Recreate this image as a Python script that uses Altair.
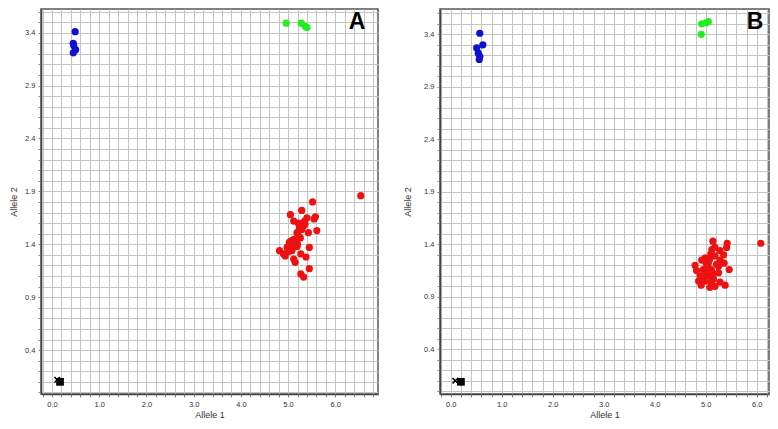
import altair as alt
import pandas as pd

# ---------------- Panel A data ----------------
a_blue_x = [0.49, 0.45, 0.46, 0.50, 0.45]
a_blue_y = [3.41, 3.30, 3.28, 3.24, 3.21]
a_green_x = [4.96, 5.28, 5.36, 5.40]
a_green_y = [3.49, 3.49, 3.46, 3.45]
a_red_x = [6.54, 5.52, 5.05, 5.29, 5.58, 5.12, 5.40, 5.22, 5.36, 5.61, 5.19, 5.43,
           5.29, 5.26, 5.12, 5.05, 4.98, 4.82, 4.94, 5.08, 5.19, 5.45, 5.12, 5.15,
           5.27, 5.38, 5.45, 5.27, 5.33, 5.55, 5.10, 5.02, 5.06, 5.14, 5.00, 5.22,
           5.32, 4.90, 5.17, 5.35, 5.24, 5.09, 5.03, 5.20]
a_red_y = [1.86, 1.80, 1.68, 1.72, 1.66, 1.62, 1.65, 1.60, 1.59, 1.53, 1.51, 1.51,
           1.54, 1.46, 1.41, 1.40, 1.37, 1.34, 1.29, 1.34, 1.38, 1.37, 1.26, 1.23,
           1.31, 1.28, 1.17, 1.12, 1.09, 1.64, 1.44, 1.39, 1.43, 1.45, 1.33, 1.48,
           1.57, 1.31, 1.42, 1.62, 1.55, 1.36, 1.42, 1.40]
a_square_x = [0.17]
a_square_y = [0.10]
a_cross_x = [0.11]
a_cross_y = [0.12]

# ---------------- Panel B data ----------------
b_blue_x = [0.57, 0.63, 0.51, 0.54, 0.57, 0.56]
b_blue_y = [3.41, 3.30, 3.27, 3.22, 3.19, 3.16]
b_green_x = [4.92, 5.01, 5.05, 4.91]
b_green_y = [3.50, 3.51, 3.52, 3.40]
b_red_x = [6.08, 5.14, 5.42, 5.41, 5.12, 5.28, 4.99, 4.79, 5.46, 5.36, 5.25, 5.38,
           4.91, 5.08, 5.18, 4.99, 4.82, 5.02, 5.08, 5.18, 4.95, 5.05, 5.15, 5.28,
           4.89, 4.92, 5.28, 5.35, 5.05, 5.11, 5.18, 5.25, 4.99, 5.11, 4.86, 5.10,
           5.21, 5.00, 5.14, 4.97]
b_red_y = [1.41, 1.43, 1.41, 1.37, 1.35, 1.34, 1.27, 1.20, 1.16, 1.22, 1.13, 1.01,
           1.01, 0.99, 1.00, 1.05, 1.15, 1.19, 1.26, 1.29, 1.16, 1.10, 1.07, 1.04,
           1.10, 1.25, 1.25, 1.30, 1.22, 1.16, 1.37, 1.19, 1.13, 1.04, 1.05, 1.31,
           1.21, 1.23, 1.12, 1.09]
b_square_x = [0.20]
b_square_y = [0.09]
b_cross_x = [0.09]
b_cross_y = [0.10]

panel_labels = ["A", "B"]
x_title = "Allele 1"
y_title = "Allele 2"

group_names = ["blue", "green", "red"]
group_colors = ["#1010d4", "#22ee22", "#ee1111"]

H = 385
X_MAJOR = "abs(datum.value - round(datum.value)) < 0.001"
Y_MAJOR = "abs(datum.value*2 + 0.2 - round(datum.value*2 + 0.2)) < 0.001"


def circles_df(bx, by, gx, gy, rx, ry):
    rows = []
    for name, xs, ys in (("blue", bx, by), ("green", gx, gy), ("red", rx, ry)):
        for xv, yv in zip(xs, ys):
            rows.append({"x": xv, "y": yv, "group": name})
    return pd.DataFrame(rows)


def panel(df, sq_x, sq_y, cr_x, cr_y, xdom, ydom, xgrid, ygrid, label, label_x,
          y_title_pad, width):
    xenc = alt.X(
        "x:Q",
        scale=alt.Scale(domain=xdom, nice=False, zero=False),
        axis=alt.Axis(
            values=xgrid, tickCount=200, grid=True, title=x_title,
            labelExpr=X_MAJOR + " ? format(datum.value, '.1f') : ''",
            labelFontSize={"condition": {"test": X_MAJOR, "value": 7.5}, "value": 0},
            labelOverlap=False, labelFlush=False, titlePadding=3,
        ),
    )
    yenc = alt.Y(
        "y:Q",
        scale=alt.Scale(domain=ydom, nice=False, zero=False),
        axis=alt.Axis(
            values=ygrid, tickCount=200, grid=True, title=y_title,
            labelExpr=Y_MAJOR + " ? format(datum.value, '.1f') : ''",
            labelFontSize={"condition": {"test": Y_MAJOR, "value": 7.5}, "value": 0},
            labelOverlap=False, labelFlush=False, titlePadding=y_title_pad,
        ),
    )
    pts = alt.Chart(df).mark_circle(size=52, opacity=1).encode(
        x=xenc, y=yenc,
        color=alt.Color("group:N", scale=alt.Scale(domain=group_names, range=group_colors),
                        legend=None),
    )
    sq = alt.Chart(pd.DataFrame({"x": sq_x, "y": sq_y})).mark_square(
        size=60, color="black", opacity=1).encode(x="x:Q", y="y:Q")
    cr = alt.Chart(pd.DataFrame({"x": cr_x, "y": cr_y})).mark_point(
        shape="M -1 -1 L 1 1 M -1 1 L 1 -1", filled=False, color="black",
        strokeWidth=1.6, size=30, opacity=1).encode(x="x:Q", y="y:Q")
    txt = alt.Chart(pd.DataFrame({"t": [label]})).mark_text(
        fontSize=23, fontWeight="bold", font="Liberation Sans", color="black",
        align="center", baseline="alphabetic").encode(
        text="t:N", x=alt.value(label_x), y=alt.value(20))
    return alt.layer(pts, sq, cr, txt).properties(width=width, height=H)


a_xgrid = [round(-0.2 + 0.2 * i, 1) for i in range(36)]
a_ygrid = [round(0.1 * i, 1) for i in range(37)]
b_xgrid = [round(-0.2 + 0.2 * i, 1) for i in range(33)]
b_ygrid = a_ygrid

df_a = circles_df(a_blue_x, a_blue_y, a_green_x, a_green_y, a_red_x, a_red_y)
df_b = circles_df(b_blue_x, b_blue_y, b_green_x, b_green_y, b_red_x, b_red_y)

pa = panel(df_a, a_square_x, a_square_y, a_cross_x, a_cross_y,
           [-0.233, 6.905], [-0.015, 3.624], a_xgrid, a_ygrid,
           panel_labels[0], 316, 6, 337)
pb = panel(df_b, b_square_x, b_square_y, b_cross_x, b_cross_y,
           [-0.21, 6.24], [-0.026, 3.641], b_xgrid, b_ygrid,
           panel_labels[1], 315, 11, 329)

chart = alt.hconcat(pa, pb, spacing=23).properties(
    padding={"left": 0, "top": 0, "right": 0, "bottom": 0}
).configure_view(
    stroke="#555555", strokeWidth=1.5
).configure_axis(
    labelFont="Liberation Sans", labelColor="#333333",
    titleFont="Liberation Sans", titleFontSize=9, titleFontWeight="normal",
    titleColor="#333333",
    gridColor="#c4c4c4", gridWidth=1, gridOpacity=1,
    tickColor="#888888", tickSize=3, tickWidth=1,
    domainColor="#444444", domainWidth=1.5,
    labelPadding=3,
)

chart.save("out.html", embed_options={"renderer": "svg", "actions": False})
